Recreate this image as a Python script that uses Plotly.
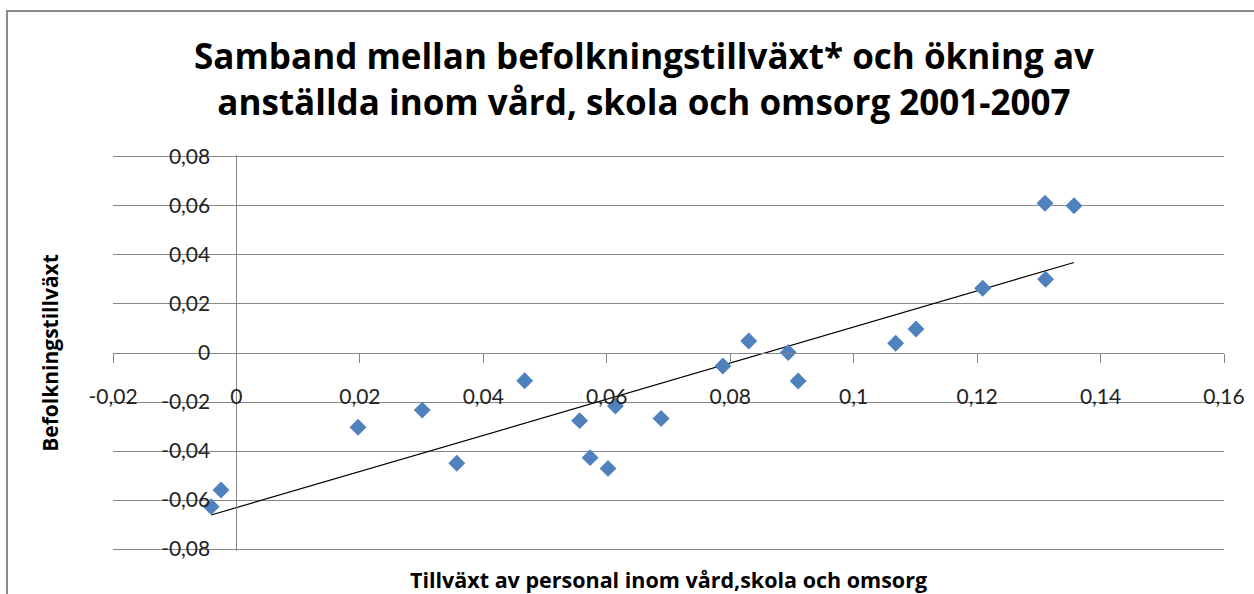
import numpy as np
import plotly.graph_objects as go

# Data
personal_growth = [-0.0041, -0.0025, 0.0197, 0.0301, 0.0357, 0.0467, 0.0556, 0.0573,
                   0.0602, 0.0614, 0.0688, 0.0788, 0.0830, 0.0894, 0.0910, 0.1068,
                   0.1101, 0.1209, 0.1311, 0.1310, 0.1357]
population_growth = [-0.0627, -0.0559, -0.0303, -0.0233, -0.0450, -0.0113, -0.0276, -0.0427,
                     -0.0471, -0.0216, -0.0267, -0.0053, 0.0049, 0.0002, -0.0114, 0.0040,
                     0.0098, 0.0264, 0.0301, 0.0611, 0.0601]

x_tickvals = [-0.02, 0, 0.02, 0.04, 0.06, 0.08, 0.10, 0.12, 0.14, 0.16]
x_ticktext = ["-0,02", "0", "0,02", "0,04", "0,06", "0,08", "0,1", "0,12", "0,14", "0,16"]
y_tickvals = [-0.08, -0.06, -0.04, -0.02, 0, 0.02, 0.04, 0.06, 0.08]
y_ticktext = ["-0,08", "-0,06", "-0,04", "-0,02", "0", "0,02", "0,04", "0,06", "0,08"]

title_text = "Samband mellan befolkningstillväxt* och ökning av<br>anställda inom vård, skola och omsorg 2001-2007"
x_title = "Tillväxt av personal inom vård,skola och omsorg"
y_title = "Befolkningstillväxt"

# Linear trendline (least squares), spanning the data range
xs = np.array(personal_growth)
ys = np.array(population_growth)
slope, intercept = np.polyfit(xs, ys, 1)
trend_x = [xs.min(), xs.max()]
trend_y = [slope * v + intercept for v in trend_x]

TICKFONT = "Lato"
TITLEFONT = "Open Sans"
GRID = "#878787"

fig = go.Figure()
fig.add_trace(go.Scatter(
    x=trend_x, y=trend_y, mode="lines",
    line=dict(color="black", width=1.2), showlegend=False, hoverinfo="skip"))
fig.add_trace(go.Scatter(
    x=personal_growth, y=population_growth, mode="markers",
    marker=dict(symbol="diamond", size=13, color="#4F81BD", line=dict(width=0)),
    showlegend=False))

fig.update_layout(
    width=1254, height=594,
    margin=dict(l=113, r=30, t=155, b=43, autoexpand=False),
    paper_bgcolor="white", plot_bgcolor="white",
    font=dict(family=TICKFONT, color="#222222"),
    title=dict(text=title_text, x=644 / 1254, xref="container", xanchor="center",
               y=1 - 69 / 594, yref="container", yanchor="middle",
               font=dict(family=TITLEFONT, size=35, color="black", weight="bold")),
    xaxis=dict(range=[-0.02, 0.16], anchor="free", position=0.5, automargin=False,
               showgrid=False, zeroline=False, showline=True, linecolor=GRID, linewidth=1,
               ticks="outside", ticklen=9, tickcolor=GRID, tickwidth=1,
               tickvals=x_tickvals, ticktext=x_ticktext, ticklabelstandoff=16,
               tickfont=dict(family=TICKFONT, size=21, color="#222222"),
               title=dict(text=x_title, standoff=166,
                          font=dict(family=TITLEFONT, size=21.5, color="black", weight="bold"))),
    yaxis=dict(range=[-0.0808, 0.0808], anchor="free", position=0.02 / 0.18, automargin=False,
               showgrid=True, gridcolor=GRID, gridwidth=1,
               zeroline=False, showline=True, linecolor=GRID, linewidth=1,
               ticks="", tickvals=y_tickvals, ticktext=y_ticktext, ticklabelstandoff=22,
               tickfont=dict(family=TICKFONT, size=21, color="#222222"),
               title=dict(text=y_title, standoff=95,
                          font=dict(family=TITLEFONT, size=21, color="black", weight="bold"))),
    shapes=[dict(type="rect", xref="paper", yref="paper",
                 x0=(7 - 113) / 1111, x1=1.08, y0=-0.3, y1=1 + (155 - 11) / 396,
                 line=dict(color="#8c8c8c", width=2), fillcolor="rgba(0,0,0,0)", layer="below")],
)

fig.write_html("out.html", config={"displayModeBar": False},
               post_script="document.body.style.margin='0px';")
